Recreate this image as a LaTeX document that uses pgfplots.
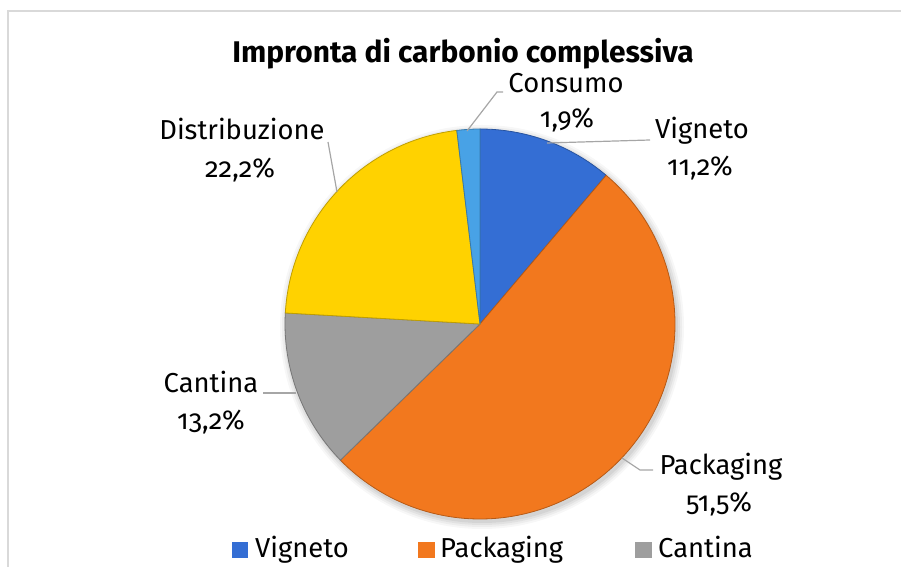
\documentclass[border=0pt]{standalone}
\usepackage{fontspec}
\setmainfont{Fira Sans}[Numbers=OldStyle]
\usepackage{pgfplots}
\usepackage{pgfplotstable}
\pgfplotsset{compat=1.18}
\definecolor{cVig}{RGB}{52,110,212}
\definecolor{cPack}{RGB}{242,120,30}
\definecolor{cCant}{RGB}{158,158,158}
\definecolor{cDist}{RGB}{255,210,0}
\definecolor{cCons}{RGB}{72,162,230}
\definecolor{leader}{RGB}{166,166,166}
\definecolor{frame}{RGB}{217,217,217}

\pgfplotstableread{
name value color
Vigneto 11.2 cVig
Packaging 51.5 cPack
Cantina 13.2 cCant
Distribuzione 22.2 cDist
Consumo 1.9 cCons
}\piedata

\begin{document}
\begin{tikzpicture}
\begin{axis}[
  scale only axis, width=901bp, height=567bp,
  xmin=0, xmax=901, ymin=0, ymax=567,
  hide axis, clip=false,
]
% frame (partially cropped)
\draw[frame, line width=1.2bp] (axis cs:8,0) -- (axis cs:8,556) -- (axis cs:901,556);
\pgfplotsextra{
  \def\cum{0}
  % soft shadow
  \foreach \k/\o in {7/0.03,5/0.04,3/0.05,1/0.06}{
    \fill[black, opacity=\o] (axis cs:482,240) circle[radius={195bp+\k bp}];
  }
  \pgfplotsforeachungrouped \i in {0,...,4}{
    \pgfplotstablegetelem{\i}{value}\of\piedata \let\v\pgfplotsretval
    \pgfplotstablegetelem{\i}{color}\of\piedata \let\c\pgfplotsretval
    \pgfmathsetmacro\a{90-3.6*\cum}
    \pgfmathsetmacro\b{90-3.6*(\cum+\v)}
    \fill[\c] (axis cs:480,243) -- ++(\a:195bp) arc[start angle=\a, end angle=\b, radius=195bp] -- cycle;
    \draw[\c!75!black, line width=0.8bp] (axis cs:480,243) -- ++(\a:195bp) arc[start angle=\a, end angle=\b, radius=195bp] -- cycle;
    \pgfmathsetmacro\cum{\cum+\v}
  }
}
% leader lines
\draw[leader, line width=1.2bp] (axis cs:503,475) -- (axis cs:497,475) -- (axis cs:467,436);
\draw[leader, line width=1.2bp] (axis cs:650,427) -- (axis cs:547,424);
\draw[leader, line width=1.2bp] (axis cs:328,425) -- (axis cs:337,375);
\draw[leader, line width=1.2bp] (axis cs:263,174) -- (axis cs:296,174);
\draw[leader, line width=1.2bp] (axis cs:653,97) -- (axis cs:640,97) -- (axis cs:622,109);
% title
\node[anchor=base, inner sep=0pt, font=\fontsize{30}{34}\selectfont\bfseries] at (axis cs:463,504) {Impronta di carbonio complessiva};
% labels
\begin{scope}[every node/.style={anchor=base, inner sep=0pt, font=\fontsize{27.5}{31}\selectfont}]
\node at (axis cs:566,474) {Consumo};
\node at (axis cs:567,439) {1,9\%};
\node at (axis cs:702,428) {Vigneto};
\node at (axis cs:700,391) {11,2\%};
\node at (axis cs:242,427) {Distribuzione};
\node at (axis cs:240,389) {22,2\%};
\node at (axis cs:211,174) {Cantina};
\node at (axis cs:211,137) {13,2\%};
\node at (axis cs:721,92) {Packaging};
\node at (axis cs:719,55) {51,5\%};
% legend
\node[anchor=base west] at (axis cs:255,10) {Vigneto};
\node[anchor=base west] at (axis cs:440,10) {Packaging};
\node[anchor=base west] at (axis cs:658,10) {Cantina};
\end{scope}
\fill[cVig] (axis cs:232,9) rectangle (axis cs:248,25);
\fill[cPack] (axis cs:418,9) rectangle (axis cs:435,25);
\fill[cCant] (axis cs:635,9) rectangle (axis cs:652,25);
\end{axis}
\pgfresetboundingbox
\path (current axis.south west) rectangle (current axis.north east);
\end{tikzpicture}
\end{document}
